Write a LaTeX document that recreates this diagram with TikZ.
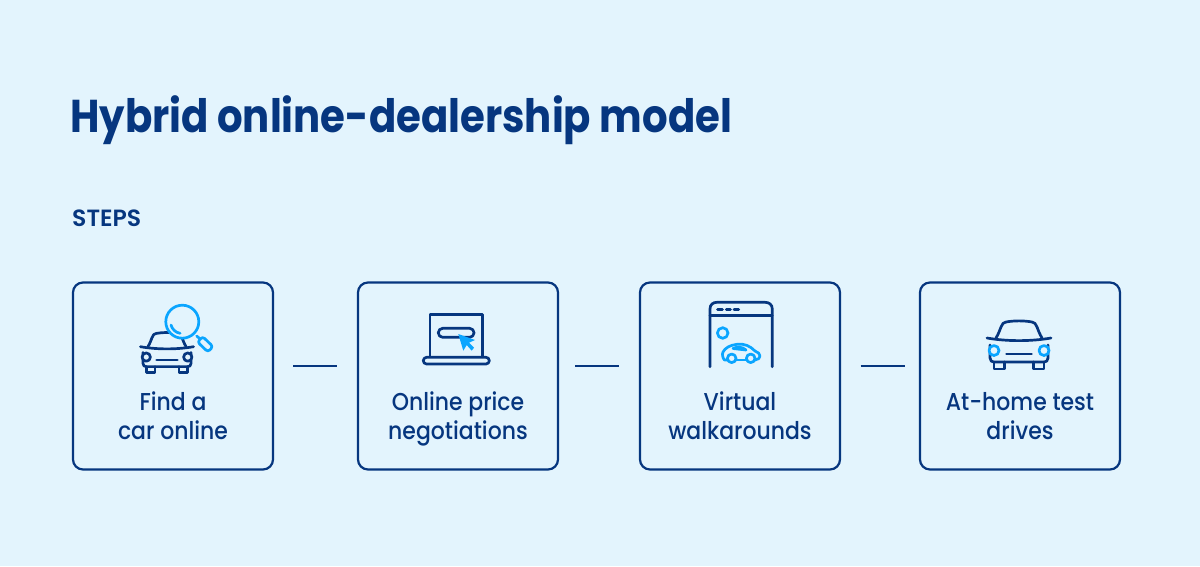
\documentclass[tikz,border=0pt]{standalone}
\usepackage{fontspec}
\setmainfont{Poppins}[BoldFont={Poppins SemiBold}]
\newfontfamily\labelfont{Poppins Medium}[FakeStretch=.9]
\newfontfamily\headfont{Poppins Bold}[FakeStretch=.875]
\usetikzlibrary{positioning}
\definecolor{pagebg}{HTML}{E3F4FD}
\definecolor{navy}{HTML}{06367F}
\definecolor{skyblue}{HTML}{0AA5FF}

\begin{document}
\begin{tikzpicture}[x=1pt,y=-1pt]

 \tikzset{stepbox/.style={
 		draw=navy,
 		line width=2.2pt,
 		rounded corners=10pt,
 		minimum width=200pt,
 		minimum height=187pt,
 		inner sep=0pt,
 		outer sep=0pt
 	},
 	steplabel/.style={
 		text=navy,
 		font=\fontsize{24.4pt}{29pt}\selectfont\labelfont,
 		align=center,
 		text depth=6pt,
 		inner sep=0pt
 	},
 	link/.style={draw=navy, line width=2pt},
 	icon/.style={draw=navy, line width=2.7pt, line cap=round, line join=round},
 	iconhi/.style={draw=skyblue, line width=2.7pt, line cap=round, line join=round},
 	car lamp/.style={iconhi},
 	car front/.pic={
 		\draw[icon] (-23,0) .. controls (-18,-8) and (-18,-16) .. (-13,-16) .. controls (-5,-17.5) and (5,-17.5) .. (13,-16) .. controls (18,-16) and (18,-8) .. (23,0);
 		\draw[icon] (-32,0) .. controls (-12,3.5) and (12,3.5) .. (32,0);
 		\draw[icon] (-29,7) -- (-29,20) .. controls (-29,23) and (-27,24) .. (-25,24) -- (25,24) .. controls (27,24) and (29,23) .. (29,20) -- (29,7);
 		\draw[icon] (-25,24) -- (-25,31) -- (-14.5,31) -- (-14.5,24);
 		\draw[icon] (25,24) -- (25,31) -- (14.5,31) -- (14.5,24);
 		\draw[icon] (-12.5,16) -- (12.5,16);
 		\draw[car lamp, fill=pagebg] (-25,12.5) circle (5);
 		\draw[car lamp, fill=pagebg] (25,12.5) circle (5);
 	}
 }

 \useasboundingbox[fill=pagebg] (0,0) rectangle (1200,566);

 \node[anchor=base west, inner sep=0pt, text=navy, font=\fontsize{46pt}{46pt}\selectfont\headfont] (title) at (70,132) {Hybrid online-dealership model};
 \node[anchor=base west, inner sep=0pt, text=navy, font=\fontsize{23.5pt}{24pt}\selectfont\bfseries] (steps) at (72,226.5) {STEPS};

 \node[stepbox] (find) at (173,376) {};
 \node[stepbox, right=85pt of find] (price) {};
 \node[stepbox, right=82pt of price] (walk) {};
 \node[stepbox, right=80pt of walk] (drive) {};

 \node[steplabel, above=24pt of find.south] (findtext) {Find a\\car online};
 \node[steplabel, above=24pt of price.south] (pricetext) {Online price\\negotiations};
 \node[steplabel, above=24pt of walk.south] (walktext) {Virtual\\walkarounds};
 \node[steplabel, above=24pt of drive.south] (drivetext) {At-home test\\drives};

 \draw[link] ([xshift=20pt,yshift=10.5pt]find.east) -- ([xshift=-21pt,yshift=10.5pt]price.west);
 \draw[link] ([xshift=17pt,yshift=10.5pt]price.east) -- ([xshift=-21pt,yshift=10.5pt]walk.west);
 \draw[link] ([xshift=20.5pt,yshift=10.5pt]walk.east) -- ([xshift=-15pt,yshift=10.5pt]drive.west);

 % magnifier over car
 \begin{scope}[car lamp/.style={icon}]
 	\pic[scale=.83] at (167,346.7) {car front};
 \end{scope}
 \draw[iconhi, fill=pagebg] (182.3,321.7) circle (16.5);
 \draw[iconhi] (171,325) arc (165:100:11.5);
 \draw[iconhi] (196.7,336) -- (200.5,339.3);
 \draw[iconhi, rounded corners=2.8pt] (197.5,342) -- (202.5,336.5) -- (213,346.5) -- (208,352) -- cycle;

 % laptop
 \draw[icon] (430,356.7) -- (430,314.3) -- (482.3,314.3) -- (482.3,356.7);
 \draw[icon, rounded corners=3.3pt] (423.3,357.3) rectangle (489.3,364);
 \draw[icon, rounded corners=4.4pt] (438.3,328.3) rectangle (474,337.3);
 \fill[skyblue] (458.3,334) -- (475,340) -- (469,342.7) -- (474,347.7) -- (471.7,350.7) -- (466.7,345) -- (463.3,350.7) -- cycle;

 % browser window
 \draw[icon] (710,366.7) -- (710,309) .. controls (710,304.5) and (713,302.3) .. (717,302.3) -- (765,302.3) .. controls (769,302.3) and (772.3,304.5) .. (772.3,309) -- (772.3,366.7);
 \draw[icon] (710,315.7) -- (772.3,315.7);
 \draw[icon] (717.5,309.3) -- (722.5,309.3);
 \draw[icon] (726.3,309.3) -- (730.5,309.3);
 \draw[icon] (734,309.3) -- (738.7,309.3);
 \draw[iconhi] (722.7,333) circle (5.3);
 \draw[iconhi] (731.7,358.3) circle (4.3);
 \draw[iconhi] (750.7,358.3) circle (4.3);
 \draw[iconhi] (727.4,360) -- (724.5,360) .. controls (722.5,358) and (722,354) .. (723,352) .. controls (725,348) and (730,345) .. (737,344.3) .. controls (745,343.5) and (750,346) .. (755,351) .. controls (758,352) and (760,354) .. (760,356) .. controls (760,358) and (758,360) .. (755,360);
 \draw[iconhi] (736,360) -- (746.4,360);
 \draw[iconhi] (733,348.5) .. controls (737,346.5) and (742,346.5) .. (746,350) -- cycle;

 % car at the end
 \pic at (1019,338) {car front};

\end{tikzpicture}
\end{document}
